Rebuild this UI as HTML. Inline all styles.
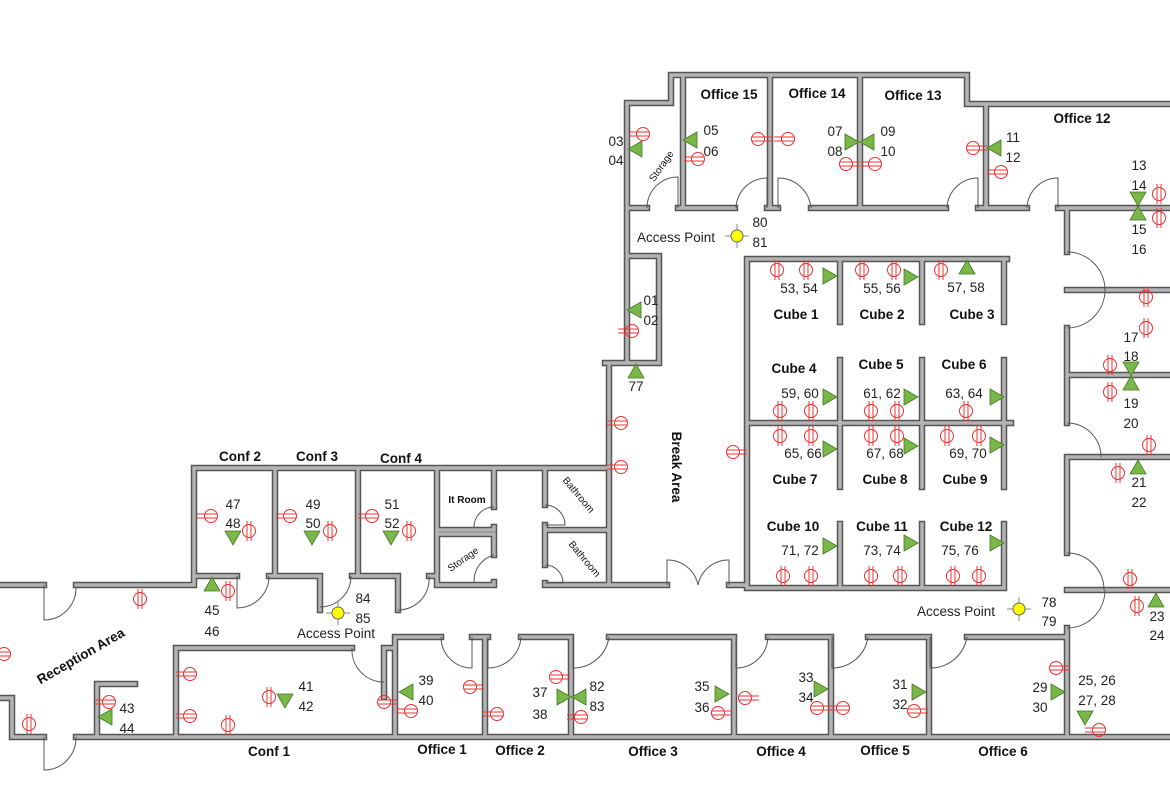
<!DOCTYPE html>
<html><head><meta charset="utf-8"><style>
html,body{margin:0;padding:0;background:#fff}
svg{display:block}
.b{font-family:"Liberation Sans",sans-serif;font-weight:bold;font-size:13.5px;fill:#111}
.n{font-family:"Liberation Sans",sans-serif;font-size:13.5px;fill:#222}
.s{font-family:"Liberation Sans",sans-serif;font-weight:bold;font-size:10px;fill:#111}
</style></head><body>
<svg width="1170" height="785" viewBox="0 0 1170 785" xmlns="http://www.w3.org/2000/svg">
<defs>
<g id="W"><path d="M627,363 V103 H671 V75 H967 V104 H1170
M683,75 V208 M770,75 V208 M860,75 V208 M986,104 V208
M627,208 H647 M678,208 H735 M767,208 H778 M811,208 H946 M978,208 H1027 M1058,208 H1170
M1067,208 V252 M1067,290 H1170 M1067,328 V423 M1067,375 H1170 M1067,457 H1170 M1067,457 V553 M1067,590 H1170 M1067,628 V737
M627,256 H659 V363 M605,363 H659
M609,363 V585 H667 M729,585 H747
M747,259 H1007 M747,259 V588 H1004
M840,259 V322 M922,259 V322 M1004,259 V322
M840,360 V487 M922,360 V487 M1004,360 V487 M747,423 H1011
M840,524 V588 M922,524 V588 M1004,524 V588
M194,585 V468 H609
M76,585 H194 M0,585 H44
M275,468 V576 M358,468 V576 M437,468 V585
M194,576 H237 M269,576 H320 V610 M352,576 H398 V610 M429,576 H437
M437,530 H494 V527 M494,507 V468
M437,534 H494 V555 M494,582 V585 M437,585 H494
M545,468 V505 M545,525 V565 M545,583 V585 H609 M545,530 H609
M176,737 V648 H352 M384,697 V648 H395
M395,737 V637 H441 M472,637 H485 V737 M485,637 H488 M521,637 H571 V737 M609,637 H734 V737 M768,637 H831 V737 M868,637 H929 V737 M967,637 H1067
M0,698 H12 V737 H44 M76,737 H1170 M97,737 V684 H135"/></g>
<g id="ohl"><circle r="6.5" fill="none"/><path d="M-14,-2 H6 M-14,2 H6"/></g>
<g id="ohr"><circle r="6.5" fill="none"/><path d="M-6,-2 H14 M-6,2 H14"/></g>
<g id="ov"><circle r="6.5" fill="none"/><path d="M-2,-10 V10 M2,-10 V10"/></g>
<polygon id="tr" points="-6,-8 8,0 -6,8" fill="#7ab648" stroke="#3f7a1f" stroke-width="0.8"/>
<g id="ap"><path d="M-12,0 H12 M0,-12 V12" stroke="#888" stroke-width="1"/><circle r="6" fill="#ffff00" stroke="#666" stroke-width="1"/></g>
</defs>
<use href="#W" fill="none" stroke="#555" stroke-width="6.5" stroke-linecap="square"/>
<use href="#W" fill="none" stroke="#b4b4b4" stroke-width="3.5" stroke-linecap="square"/>

<g fill="none" stroke="#555" stroke-width="1">
<path d="M678,208 V177 A31,31 0 0 0 647,208"/>
<path d="M767,208 V178 A31,31 0 0 0 736,208"/>
<path d="M778,208 V178 A33,33 0 0 1 811,208"/>
<path d="M978,208 V178 A31,31 0 0 0 947,208"/>
<path d="M1058,208 V178 A31,31 0 0 0 1027,208"/>
<path d="M1067,252 A38,38 0 0 1 1105,290 M1067,328 A38,38 0 0 0 1105,290"/>
<path d="M1067,423 A34,34 0 0 1 1101,457"/>
<path d="M1067,553 A37,37 0 0 1 1104,590 M1067,628 A38,38 0 0 0 1105,590"/>
<path d="M667,585 V560 A31,31 0 0 1 698,585 M729,585 V560 A31,31 0 0 0 698,585"/>
<path d="M237,576 V608 A32,32 0 0 0 269,576"/>
<path d="M351,576 A31,31 0 0 1 320,607"/>
<path d="M398,610 A31,31 0 0 0 429,576"/>
<path d="M44,585 V620 A32,32 0 0 0 76,588"/>
<path d="M44,737 V770 A32,32 0 0 0 76,737"/>
<path d="M352,648 A32,32 0 0 0 384,682"/>
<path d="M441,637 A31,31 0 0 0 472,668 V637"/>
<path d="M488,637 V668 A33,33 0 0 0 521,637"/>
<path d="M573,637 V668 A36,36 0 0 0 609,637"/>
<path d="M736,637 V668 A32,32 0 0 0 768,637"/>
<path d="M832,637 V668 A36,36 0 0 0 868,637"/>
<path d="M930,637 V668 A37,37 0 0 0 967,637"/>
<path d="M474,527 A20,20 0 0 1 494,507"/>
<path d="M474,582 A27,27 0 0 1 494,555"/>
<path d="M545,505 A20,20 0 0 1 565,525 H545 M545,565 A18,18 0 0 1 563,583 H545"/>
</g>

<g stroke="#f03030" stroke-width="1" fill="none">
<use href="#ohl" x="643" y="134"/><use href="#ohl" x="698" y="159"/>
<use href="#ohr" x="758" y="139"/><use href="#ohl" x="788" y="139"/>
<use href="#ohr" x="846" y="164"/><use href="#ohl" x="875" y="164"/>
<use href="#ohr" x="973" y="148"/><use href="#ohl" x="1001" y="172"/>
<use href="#ohl" x="632" y="331"/><use href="#ohl" x="621" y="423"/><use href="#ohl" x="621" y="467"/><use href="#ohr" x="733" y="452"/>
<use href="#ov" x="1159" y="194"/><use href="#ov" x="1159" y="218"/>
<use href="#ov" x="1146" y="297"/><use href="#ov" x="1146" y="328"/>
<use href="#ov" x="1110" y="365"/><use href="#ov" x="1110" y="392"/>
<use href="#ov" x="1149" y="445"/><use href="#ov" x="1118" y="473"/>
<use href="#ov" x="1130" y="579"/><use href="#ov" x="1137" y="606"/>
<use href="#ov" x="777" y="270"/><use href="#ov" x="806" y="270"/><use href="#ov" x="862" y="270"/><use href="#ov" x="894" y="270"/><use href="#ov" x="941" y="270"/>
<use href="#ov" x="780" y="411"/><use href="#ov" x="811" y="411"/><use href="#ov" x="871" y="411"/><use href="#ov" x="897" y="411"/><use href="#ov" x="966" y="411"/>
<use href="#ov" x="780" y="436"/><use href="#ov" x="811" y="436"/><use href="#ov" x="871" y="436"/><use href="#ov" x="897" y="436"/><use href="#ov" x="947" y="436"/><use href="#ov" x="979" y="436"/>
<use href="#ov" x="783" y="576"/><use href="#ov" x="811" y="576"/><use href="#ov" x="871" y="576"/><use href="#ov" x="900" y="576"/><use href="#ov" x="953" y="576"/><use href="#ov" x="979" y="576"/>
<use href="#ohl" x="211" y="516"/><use href="#ohl" x="290" y="516"/><use href="#ohl" x="372" y="516"/>
<use href="#ov" x="249" y="531"/><use href="#ov" x="330" y="531"/><use href="#ov" x="409" y="531"/>
<use href="#ov" x="228" y="591"/><use href="#ov" x="140" y="599"/><use href="#ohl" x="4" y="654"/><use href="#ov" x="29" y="724"/>
<use href="#ohl" x="109" y="702"/><use href="#ohl" x="190" y="674"/><use href="#ohl" x="190" y="716"/><use href="#ov" x="228" y="725"/><use href="#ov" x="269" y="697"/>
<use href="#ohr" x="384" y="702"/><use href="#ohl" x="411" y="711"/><use href="#ohr" x="470" y="687"/><use href="#ohl" x="497" y="714"/>
<use href="#ohr" x="556" y="677"/><use href="#ohl" x="581" y="717"/>
<use href="#ohr" x="745" y="698"/><use href="#ohr" x="718" y="713"/>
<use href="#ohr" x="817" y="708"/><use href="#ohl" x="843" y="708"/><use href="#ohr" x="914" y="711"/>
<use href="#ohr" x="1056" y="668"/><use href="#ohl" x="1099" y="730"/>
</g>

<g>
<use href="#tr" transform="translate(636,149) rotate(180)"/>
<use href="#tr" transform="translate(691,140) rotate(180)"/>
<use href="#tr" transform="translate(851,142)"/>
<use href="#tr" transform="translate(868,142) rotate(180)"/>
<use href="#tr" transform="translate(995,148) rotate(180)"/>
<use href="#tr" transform="translate(1138,198) rotate(90)"/>
<use href="#tr" transform="translate(1138,214) rotate(-90)"/>
<use href="#tr" transform="translate(635,310) rotate(180)"/>
<use href="#tr" transform="translate(636,372) rotate(-90)"/>
<use href="#tr" transform="translate(829,276)"/><use href="#tr" transform="translate(910,277)"/><use href="#tr" transform="translate(967,268) rotate(-90)"/>
<use href="#tr" transform="translate(829,397)"/><use href="#tr" transform="translate(910,397)"/><use href="#tr" transform="translate(996,397)"/>
<use href="#tr" transform="translate(829,449)"/><use href="#tr" transform="translate(910,446)"/><use href="#tr" transform="translate(996,445)"/>
<use href="#tr" transform="translate(829,546)"/><use href="#tr" transform="translate(910,543)"/><use href="#tr" transform="translate(996,543)"/>
<use href="#tr" transform="translate(1131,368) rotate(90)"/><use href="#tr" transform="translate(1131,384) rotate(-90)"/>
<use href="#tr" transform="translate(1138,468) rotate(-90)"/><use href="#tr" transform="translate(1156,601) rotate(-90)"/>
<use href="#tr" transform="translate(1085,717) rotate(90)"/>
<use href="#tr" transform="translate(1057,692)"/><use href="#tr" transform="translate(918,692)"/><use href="#tr" transform="translate(820,689)"/><use href="#tr" transform="translate(721,694)"/>
<use href="#tr" transform="translate(563,697)"/><use href="#tr" transform="translate(580,697) rotate(180)"/>
<use href="#tr" transform="translate(407,692) rotate(180)"/><use href="#tr" transform="translate(285,700) rotate(90)"/>
<use href="#tr" transform="translate(106,717) rotate(180)"/><use href="#tr" transform="translate(212,585) rotate(-90)"/>
<use href="#tr" transform="translate(233,537) rotate(90)"/><use href="#tr" transform="translate(312,537) rotate(90)"/><use href="#tr" transform="translate(391,537) rotate(90)"/>
<use href="#ap" x="737" y="236"/><use href="#ap" x="338" y="613"/><use href="#ap" x="1019" y="609"/>
</g>

<g class="b" text-anchor="middle">
<text x="729" y="99">Office 15</text><text x="817" y="98">Office 14</text><text x="913" y="100">Office 13</text><text x="1082" y="123">Office 12</text>
<text x="796" y="319">Cube 1</text><text x="882" y="319">Cube 2</text><text x="972" y="319">Cube 3</text>
<text x="794" y="373">Cube 4</text><text x="881" y="369">Cube 5</text><text x="964" y="369">Cube 6</text>
<text x="795" y="484">Cube 7</text><text x="885" y="484">Cube 8</text><text x="965" y="484">Cube 9</text>
<text x="793" y="531">Cube 10</text><text x="882" y="531">Cube 11</text><text x="966" y="531">Cube 12</text>
<text x="240" y="461">Conf 2</text><text x="317" y="461">Conf 3</text><text x="401" y="463">Conf 4</text>
<text x="269" y="756">Conf 1</text><text x="442" y="754">Office 1</text><text x="520" y="755">Office 2</text><text x="653" y="756">Office 3</text>
<text x="781" y="756">Office 4</text><text x="885" y="755">Office 5</text><text x="1003" y="756">Office 6</text>
<text transform="translate(83,660) rotate(-30)">Reception Area</text>
<text transform="translate(672,467) rotate(90)">Break Area</text>
</g>
<g class="s" text-anchor="middle">
<text x="467" y="503">It Room</text>
<text transform="translate(465,562) rotate(-35)" style="font-weight:normal">Storage</text>
<text transform="translate(664,168) rotate(-55)" style="font-weight:normal">Storage</text>
<text transform="translate(576,497) rotate(50)" style="font-weight:normal">Bathroom</text>
<text transform="translate(582,561) rotate(50)" style="font-weight:normal">Bathroom</text>
</g>
<g class="n" text-anchor="middle">
<text x="616" y="146">03</text><text x="616" y="165">04</text><text x="711" y="135">05</text><text x="711" y="156">06</text>
<text x="835" y="136">07</text><text x="835" y="156">08</text><text x="888" y="136">09</text><text x="888" y="156">10</text>
<text x="1013" y="142">11</text><text x="1013" y="162">12</text>
<text x="1139" y="170">13</text><text x="1139" y="190">14</text><text x="1139" y="234">15</text><text x="1139" y="254">16</text>
<text x="1131" y="342">17</text><text x="1131" y="361">18</text><text x="1131" y="408">19</text><text x="1131" y="428">20</text>
<text x="1139" y="487">21</text><text x="1139" y="507">22</text><text x="1157" y="621">23</text><text x="1157" y="640">24</text>
<text x="1097" y="685">25, 26</text><text x="1097" y="705">27, 28</text>
<text x="1040" y="692">29</text><text x="1040" y="712">30</text><text x="900" y="689">31</text><text x="900" y="709">32</text>
<text x="806" y="682">33</text><text x="806" y="702">34</text><text x="702" y="691">35</text><text x="702" y="712">36</text>
<text x="540" y="697">37</text><text x="540" y="719">38</text><text x="597" y="691">82</text><text x="597" y="711">83</text>
<text x="426" y="685">39</text><text x="426" y="705">40</text><text x="306" y="691">41</text><text x="306" y="711">42</text>
<text x="127" y="713">43</text><text x="127" y="733">44</text><text x="212" y="615">45</text><text x="212" y="636">46</text>
<text x="233" y="509">47</text><text x="233" y="528">48</text><text x="313" y="509">49</text><text x="313" y="528">50</text>
<text x="392" y="509">51</text><text x="392" y="528">52</text>
<text x="760" y="227">80</text><text x="760" y="247">81</text><text x="363" y="603">84</text><text x="363" y="623">85</text>
<text x="1049" y="607">78</text><text x="1049" y="626">79</text>
<text x="651" y="305">01</text><text x="651" y="325">02</text><text x="636" y="391">77</text>
<text x="799" y="293">53, 54</text><text x="882" y="293">55, 56</text><text x="966" y="292">57, 58</text>
<text x="800" y="398">59, 60</text><text x="882" y="398">61, 62</text><text x="964" y="398">63, 64</text>
<text x="803" y="458">65, 66</text><text x="885" y="458">67, 68</text><text x="968" y="458">69, 70</text>
<text x="800" y="555">71, 72</text><text x="882" y="555">73, 74</text><text x="960" y="555">75, 76</text>
<text x="676" y="242">Access Point</text><text x="336" y="638">Access Point</text><text x="956" y="616">Access Point</text>
</g>
</svg>
</body></html>
